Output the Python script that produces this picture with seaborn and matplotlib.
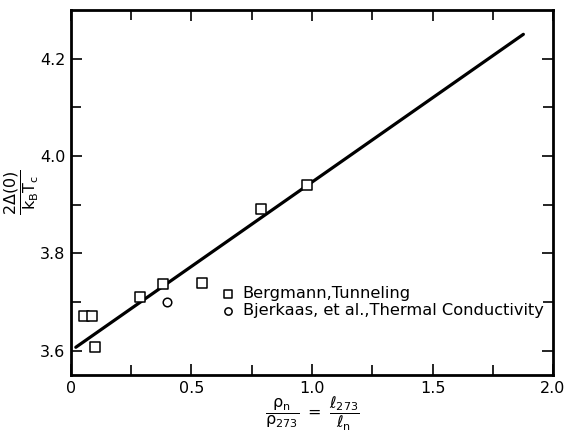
import numpy as np
import pandas as pd
import matplotlib
matplotlib.use('Agg')
import matplotlib.pyplot as plt
import seaborn as sns

# values
tunnel_x = [0.055, 0.088, 0.098, 0.286, 0.38, 0.542, 0.788, 0.98]
tunnel_y = [3.671, 3.671, 3.608, 3.710, 3.737, 3.739, 3.892, 3.941]
thermal_x = [0.397]
thermal_y = [3.701]
fit_x = [0.02, 1.877]
fit_y = [3.607, 4.250]

x_ticks = [0, 0.5, 1.0, 1.5, 2.0]
x_labels = ['0', '0.5', '1.0', '1.5', '2.0']
y_ticks = [3.6, 3.8, 4.0, 4.2]
y_labels = ['3.6', '3.8', '4.0', '4.2']

sns.set_style('ticks', {'axes.edgecolor': 'black', 'xtick.color': 'black',
                        'ytick.color': 'black', 'text.color': 'black',
                        'axes.labelcolor': 'black'})
plt.rcParams['font.family'] = ['DejaVu Sans']
plt.rcParams['mathtext.default'] = 'regular'

fig = plt.figure(figsize=(5.71, 4.32), dpi=100)
ax = fig.add_axes([0.1243, 0.1319, 0.8442, 0.845])

tunnel = pd.DataFrame({'x': tunnel_x, 'y': tunnel_y})
thermal = pd.DataFrame({'x': thermal_x, 'y': thermal_y})
fit = pd.DataFrame({'x': fit_x, 'y': fit_y})

sns.lineplot(data=fit, x='x', y='y', color='black', linewidth=2.3, ax=ax)
sns.scatterplot(data=tunnel, x='x', y='y', marker='s', s=46, facecolor='white',
                edgecolor='black', linewidth=1.1, label='Bergmann,Tunneling', ax=ax, zorder=3)
sns.scatterplot(data=thermal, x='x', y='y', marker='o', s=38, facecolor='white',
                edgecolor='black', linewidth=1.1, label='Bjerkaas, et al.,Thermal Conductivity',
                ax=ax, zorder=3)

ax.set_xticks(x_ticks, x_labels)
ax.set_xticks([0.25, 0.75, 1.25, 1.75], minor=True)
ax.set_yticks(y_ticks, y_labels)
ax.set_yticks([3.7, 3.9, 4.1], minor=True)
ax.set_xlim(0, 2.0)
ax.set_ylim(3.55, 4.3)

ax.tick_params(which='both', direction='in', top=True, right=True, width=1.2,
               labelsize=11.5, pad=4, color='black', labelcolor='black')
ax.tick_params(which='major', length=8)
ax.tick_params(which='minor', length=7)
for sp in ax.spines.values():
    sp.set_linewidth(2.0)
    sp.set_color('black')

ax.set_xlabel(r'$\dfrac{\rho_n}{\rho_{273}}\ =\ \dfrac{\ell_{273}}{\ell_n}$', fontsize=11.5)
ax.set_ylabel(r'$\dfrac{2\Delta(0)}{k_BT_c}$', fontsize=11.5)
ax.xaxis.set_label_coords(0.5, -0.055)
ax.yaxis.set_label_coords(-0.062, 0.5)

leg = ax.legend(loc='center left', bbox_to_anchor=(0.279, 0.20), frameon=False,
                fontsize=11.7, handlelength=1.0, handletextpad=0.4, labelspacing=0.1,
                markerscale=0.85)

fig.savefig('out.png', dpi=100)
